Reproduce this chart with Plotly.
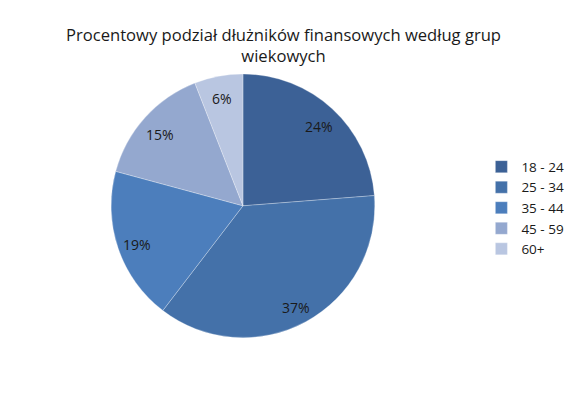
import math
import plotly.graph_objects as go

labels = ["18 - 24", "25 - 34", "35 - 44", "45 - 59", "60+"]
values = [24, 37, 19, 15, 6]
colors = ["#3C6196", "#4471A9", "#4C7EBC", "#94A8CF", "#B9C6E1"]

W, H = 567, 410
dom_x = [0.196, 0.661]
dom_y = [0.176, 0.820]

fig = go.Figure(go.Pie(
    labels=labels,
    values=values,
    sort=False,
    direction="clockwise",
    rotation=0,
    marker=dict(colors=colors, line=dict(color="rgba(255,255,255,0.35)", width=0.8)),
    textinfo="none",
    hoverinfo="label+value",
    domain=dict(x=dom_x, y=dom_y),
))

# data labels placed along each slice's mid-angle (as in the original chart)
cx = (dom_x[0] + dom_x[1]) / 2 * W
cy = (dom_y[0] + dom_y[1]) / 2 * H
R = min((dom_x[1] - dom_x[0]) * W, (dom_y[1] - dom_y[0]) * H) / 2
total = sum(values)
cum = 0
for v in values:
    mid = (cum + v / 2) / total * 2 * math.pi
    cum += v
    r = 0.85 * R
    px = cx + r * math.sin(mid)
    py = cy + r * math.cos(mid)
    fig.add_annotation(
        x=px / W, y=py / H, xref="paper", yref="paper",
        xanchor="center", yanchor="middle", yshift=-3,
        text=f"{v}%", showarrow=False,
        font=dict(family="Open Sans", size=14, color="#1a1a1a"),
    )

fig.update_layout(
    width=W, height=H,
    margin=dict(l=0, r=0, t=0, b=0, autoexpand=False),
    paper_bgcolor="white",
    title=dict(
        text="Procentowy podział dłużników finansowych według grup<br>wiekowych",
        x=0.5, xanchor="center", y=0.901, yanchor="middle",
        font=dict(family="Open Sans", size=16.6, color="#1a1a1a"),
    ),
    legend=dict(
        x=0.849, xanchor="left", y=0.493, yanchor="middle",
        font=dict(family="Open Sans", size=13.5, color="#1a1a1a"),
        itemwidth=30,
    ),
)

fig.write_html("out.html", config={"displayModeBar": False},
               post_script="document.body.style.margin='0';")
